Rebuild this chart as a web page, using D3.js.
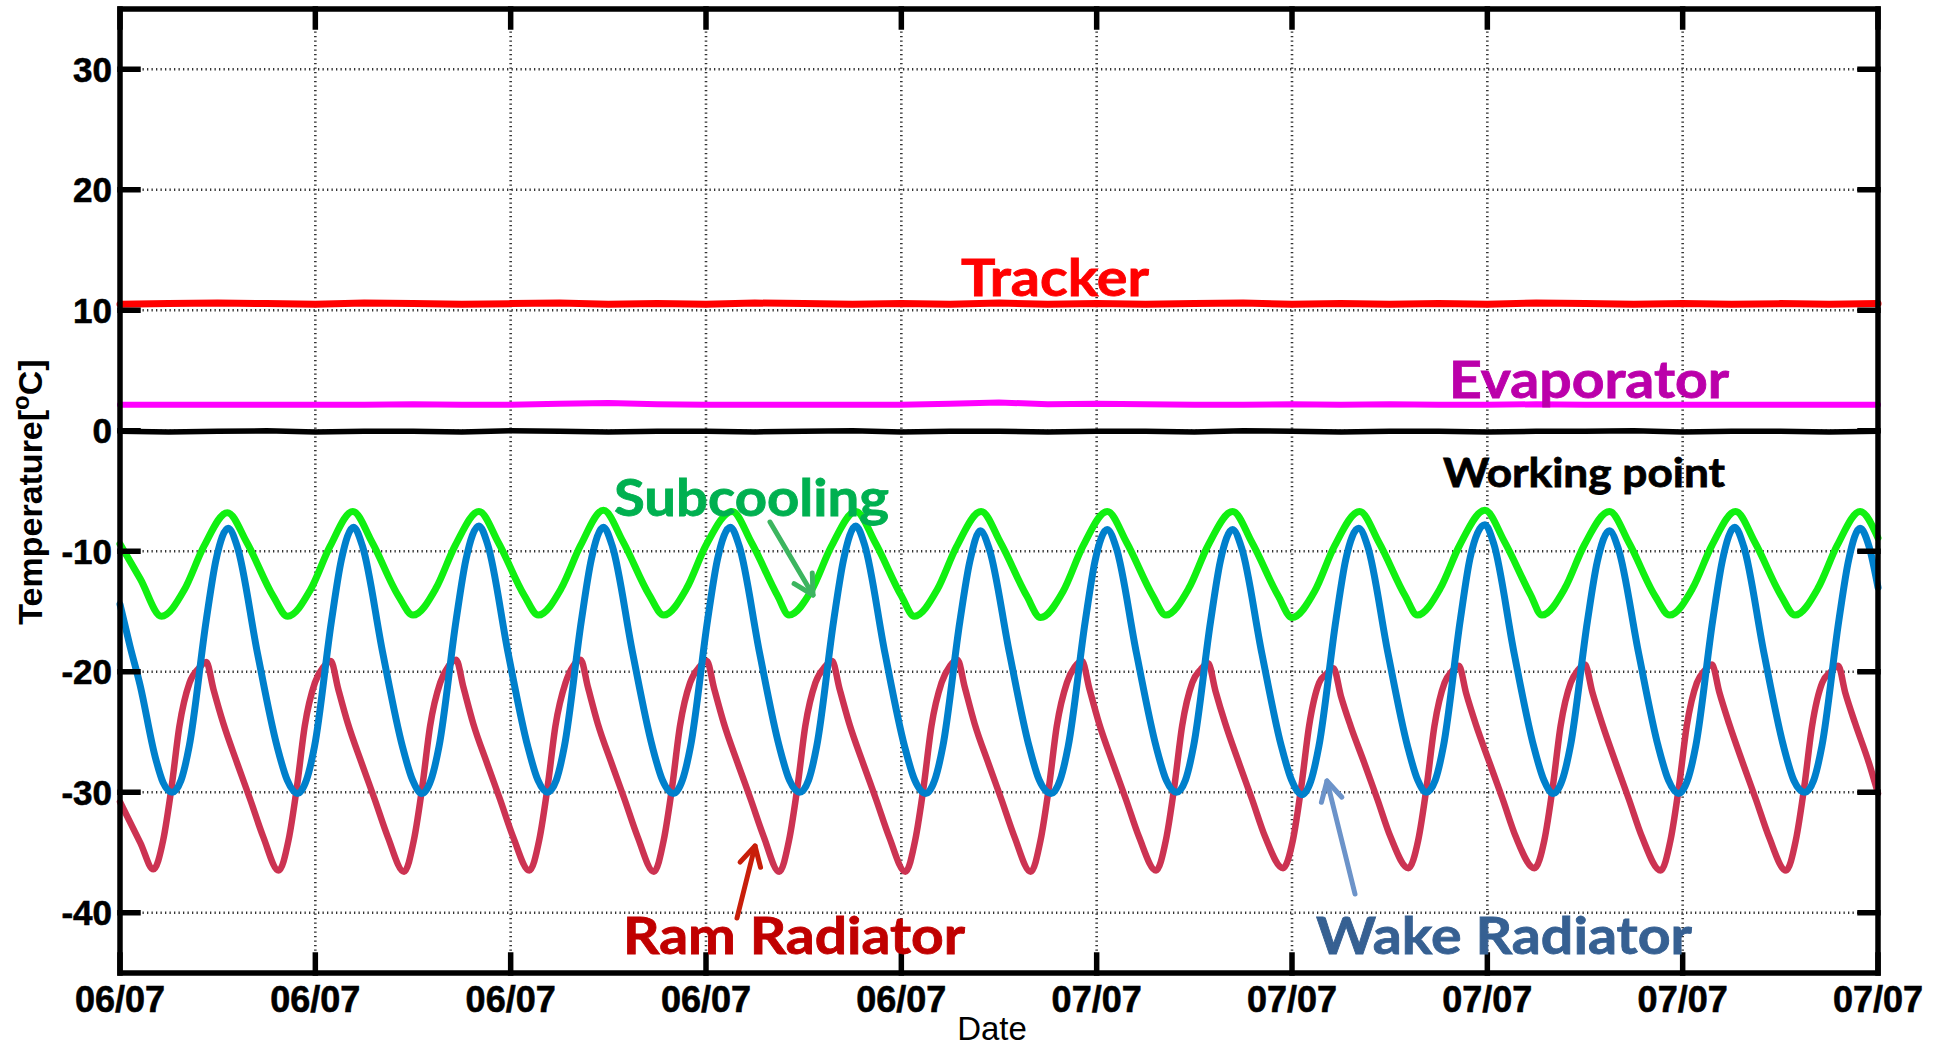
<!DOCTYPE html>
<html>
<head>
<meta charset="utf-8">
<script src="https://cdn.jsdelivr.net/npm/d3@7"></script>
<style>
  body { margin: 0; background: #ffffff; }
  svg { display: block; }
</style>
</head>
<body>
<svg id="chart" width="1939" height="1050"></svg>
<script>
// ---- axis ticks (time in hours from the first tick) ----
const xTickHours = [0, 2.4, 4.8, 7.2, 9.6, 12, 14.4, 16.8, 19.2, 21.6];
const xTickLabels = ["06/07", "06/07", "06/07", "06/07", "06/07",
                     "07/07", "07/07", "07/07", "07/07", "07/07"];
const yTicks = [30, 20, 10, 0, -10, -20, -30, -40];

// ---- nearly constant loops, sampled every 0.6 h ----
const flatHours = [0, 0.6, 1.2, 1.8, 2.4, 3.0, 3.6, 4.2, 4.8, 5.4, 6.0, 6.6, 7.2, 7.8,
  8.4, 9.0, 9.6, 10.2, 10.8, 11.4, 12.0, 12.6, 13.2, 13.8, 14.4, 15.0, 15.6, 16.2,
  16.8, 17.4, 18.0, 18.6, 19.2, 19.8, 20.4, 21.0, 21.6];
const trackerTemp = [10.50, 10.55, 10.60, 10.55, 10.50, 10.60, 10.55, 10.50, 10.55, 10.60,
  10.50, 10.55, 10.50, 10.60, 10.55, 10.50, 10.55, 10.50, 10.60, 10.50, 10.55, 10.50,
  10.55, 10.60, 10.50, 10.55, 10.50, 10.55, 10.50, 10.60, 10.55, 10.50, 10.55, 10.50,
  10.55, 10.50, 10.55];
const evaporatorTemp = [2.15, 2.15, 2.15, 2.15, 2.15, 2.15, 2.20, 2.15, 2.15, 2.25, 2.30,
  2.20, 2.15, 2.15, 2.15, 2.15, 2.15, 2.25, 2.35, 2.20, 2.25, 2.20, 2.15, 2.15, 2.20,
  2.15, 2.20, 2.15, 2.15, 2.20, 2.15, 2.15, 2.15, 2.15, 2.15, 2.15, 2.15];
const workingPointTemp = [-0.05, -0.10, -0.05, 0.00, -0.10, -0.05, -0.05, -0.10, 0.00,
  -0.05, -0.10, -0.05, -0.05, -0.10, -0.05, 0.00, -0.10, -0.05, -0.05, -0.10, -0.05,
  -0.05, -0.10, 0.00, -0.05, -0.10, -0.05, -0.05, -0.10, -0.05, -0.05, 0.00, -0.10,
  -0.05, -0.05, -0.10, -0.05];

// ---- subcooling ----
const subcoolingHours = [0.00, 0.25,
  0.51, 0.79, 1.03, 1.32, 1.56, 1.88,
  2.06, 2.34, 2.58, 2.86, 3.10, 3.42,
  3.60, 3.88, 4.12, 4.41, 4.65, 4.97,
  5.14, 5.42, 5.66, 5.94, 6.18, 6.50,
  6.68, 6.96, 7.20, 7.52, 7.76, 8.08,
  8.22, 8.50, 8.74, 9.04, 9.28, 9.60,
  9.76, 10.04, 10.28, 10.58, 10.82, 11.14,
  11.31, 11.59, 11.83, 12.13, 12.37, 12.69,
  12.85, 13.13, 13.37, 13.67, 13.91, 14.23,
  14.40, 14.68, 14.92, 15.23, 15.47, 15.79,
  15.94, 16.22, 16.46, 16.77, 17.01, 17.33,
  17.47, 17.75, 17.99, 18.30, 18.54, 18.86,
  19.04, 19.32, 19.56, 19.85, 20.09, 20.41,
  20.58, 20.86, 21.10, 21.38, 21.60];
const subcoolingTemp = [-9.4, -12.3,
  -15.4, -13.2, -9.6, -6.8, -9.3, -13.7,
  -15.4, -13.2, -9.6, -6.7, -9.3, -13.7,
  -15.3, -13.1, -9.5, -6.7, -9.3, -13.7,
  -15.3, -13.1, -9.5, -6.6, -9.2, -13.6,
  -15.3, -13.1, -9.5, -6.7, -9.3, -13.7,
  -15.3, -13.2, -9.6, -6.7, -9.3, -13.7,
  -15.4, -13.2, -9.6, -6.7, -9.3, -13.7,
  -15.5, -13.3, -9.6, -6.7, -9.3, -13.7,
  -15.3, -13.1, -9.5, -6.7, -9.3, -13.7,
  -15.5, -13.3, -9.6, -6.7, -9.3, -13.7,
  -15.3, -13.1, -9.5, -6.6, -9.2, -13.6,
  -15.3, -13.1, -9.5, -6.7, -9.3, -13.7,
  -15.3, -13.1, -9.5, -6.7, -9.3, -13.7,
  -15.3, -13.1, -9.5, -6.7, -8.9];

// ---- wake radiator ----
const wakeHours = [0.00, 0.12, 0.25, 0.43, 0.53,
  0.64, 0.75, 0.85, 1.06, 1.18, 1.33, 1.44, 1.69, 1.93, 2.055,
  2.18, 2.29, 2.39, 2.60, 2.72, 2.87, 2.98, 3.23, 3.47, 3.595,
  3.71, 3.82, 3.92, 4.13, 4.25, 4.41, 4.52, 4.77, 5.01, 5.135,
  5.25, 5.36, 5.46, 5.67, 5.79, 5.94, 6.05, 6.30, 6.54, 6.665,
  6.80, 6.91, 7.01, 7.22, 7.34, 7.50, 7.61, 7.86, 8.10, 8.225,
  8.35, 8.46, 8.56, 8.77, 8.89, 9.04, 9.15, 9.40, 9.64, 9.765,
  9.90, 10.01, 10.11, 10.32, 10.44, 10.57, 10.68, 10.93, 11.17, 11.295,
  11.44, 11.55, 11.65, 11.86, 11.98, 12.13, 12.24, 12.49, 12.73, 12.855,
  12.98, 13.09, 13.19, 13.40, 13.52, 13.67, 13.78, 14.03, 14.27, 14.395,
  14.52, 14.63, 14.73, 14.94, 15.06, 15.22, 15.33, 15.58, 15.82, 15.945,
  16.05, 16.16, 16.26, 16.47, 16.59, 16.77, 16.88, 17.13, 17.37, 17.495,
  17.61, 17.72, 17.82, 18.03, 18.15, 18.30, 18.41, 18.66, 18.90, 19.025,
  19.15, 19.26, 19.36, 19.57, 19.69, 19.84, 19.95, 20.20, 20.44, 20.565,
  20.70, 20.81, 20.91, 21.12, 21.24, 21.38, 21.49, 21.60];
const wakeTemp = [-14.4, -17.8, -21.2, -27.0, -29.2,
  -30.0, -29.0, -26.2, -15.7, -10.7, -8.1, -9.6, -18.5, -26.2, -29.0,
  -30.1, -29.0, -26.2, -15.7, -10.7, -8.0, -9.6, -18.5, -26.2, -29.0,
  -30.1, -29.0, -26.2, -15.7, -10.7, -7.9, -9.5, -18.5, -26.2, -29.0,
  -30.0, -29.0, -26.2, -15.7, -10.7, -8.0, -9.6, -18.5, -26.2, -29.0,
  -30.1, -29.0, -26.2, -15.7, -10.7, -8.0, -9.6, -18.5, -26.2, -29.0,
  -30.0, -29.0, -26.2, -15.7, -10.7, -7.9, -9.5, -18.5, -26.2, -29.0,
  -30.1, -29.0, -26.2, -15.8, -10.9, -8.3, -9.8, -18.5, -26.2, -29.0,
  -30.1, -29.0, -26.2, -15.8, -10.8, -8.2, -9.7, -18.5, -26.2, -29.0,
  -30.0, -29.0, -26.2, -15.8, -10.8, -8.2, -9.7, -18.5, -26.2, -29.0,
  -30.2, -29.1, -26.2, -15.7, -10.7, -8.1, -9.6, -18.5, -26.2, -29.0,
  -30.0, -29.0, -26.2, -15.6, -10.5, -7.8, -9.4, -18.5, -26.2, -29.0,
  -30.1, -29.0, -26.2, -15.8, -10.9, -8.3, -9.8, -18.5, -26.2, -29.0,
  -30.1, -29.0, -26.2, -15.7, -10.7, -8.0, -9.6, -18.5, -26.2, -29.0,
  -30.0, -29.0, -26.2, -15.7, -10.7, -8.1, -9.6, -13.0];

// ---- ram radiator ----
const ramHours = [0.00, 0.25,
  0.41, 0.53, 0.635, 0.73, 0.855, 0.97, 1.06, 1.15, 1.27, 1.44, 1.60, 1.76,
  1.95, 2.07, 2.175, 2.27, 2.395, 2.50, 2.59, 2.68, 2.80, 2.97, 3.13, 3.29,
  3.49, 3.61, 3.715, 3.81, 3.935, 4.04, 4.13, 4.22, 4.34, 4.51, 4.67, 4.83,
  5.03, 5.15, 5.255, 5.35, 5.475, 5.57, 5.66, 5.75, 5.87, 6.04, 6.20, 6.36,
  6.56, 6.68, 6.785, 6.88, 7.005, 7.12, 7.21, 7.30, 7.42, 7.59, 7.75, 7.91,
  8.10, 8.22, 8.325, 8.42, 8.545, 8.66, 8.75, 8.84, 8.96, 9.13, 9.29, 9.45,
  9.65, 9.77, 9.875, 9.97, 10.095, 10.20, 10.29, 10.38, 10.50, 10.67, 10.83, 10.99,
  11.19, 11.31, 11.415, 11.51, 11.635, 11.73, 11.82, 11.91, 12.03, 12.20, 12.36, 12.52,
  12.73, 12.85, 12.955, 13.05, 13.175, 13.28, 13.37, 13.46, 13.58, 13.75, 13.91, 14.07,
  14.29, 14.41, 14.515, 14.61, 14.735, 14.82, 14.91, 15.00, 15.12, 15.29, 15.45, 15.61,
  15.83, 15.95, 16.055, 16.15, 16.275, 16.36, 16.45, 16.54, 16.66, 16.83, 16.99, 17.15,
  17.38, 17.50, 17.605, 17.70, 17.825, 17.91, 18.00, 18.09, 18.21, 18.38, 18.54, 18.70,
  18.93, 19.05, 19.155, 19.25, 19.375, 19.47, 19.56, 19.65, 19.77, 19.94, 20.10, 20.26,
  20.47, 20.59, 20.695, 20.79, 20.915, 21.02, 21.11, 21.20, 21.32, 21.49, 21.60];
const ramTemp = [-30.8, -34.2,
  -36.4, -34.0, -29.5, -24.5, -20.9, -19.7, -19.2, -21.5, -24.3, -27.6, -30.6, -33.7,
  -36.5, -34.0, -29.5, -24.5, -20.9, -19.6, -19.1, -21.4, -24.3, -27.6, -30.6, -33.7,
  -36.6, -34.0, -29.5, -24.5, -20.9, -19.5, -19.0, -21.3, -24.3, -27.6, -30.6, -33.7,
  -36.5, -34.0, -29.5, -24.5, -20.9, -19.5, -19.0, -21.3, -24.3, -27.6, -30.6, -33.7,
  -36.6, -34.0, -29.5, -24.5, -20.9, -19.6, -19.1, -21.4, -24.3, -27.6, -30.6, -33.7,
  -36.6, -34.0, -29.5, -24.5, -20.9, -19.6, -19.1, -21.4, -24.3, -27.6, -30.6, -33.7,
  -36.6, -34.0, -29.5, -24.5, -20.9, -19.5, -19.0, -21.3, -24.3, -27.6, -30.6, -33.7,
  -36.6, -34.0, -29.5, -24.5, -20.9, -19.6, -19.1, -21.4, -24.3, -27.6, -30.6, -33.7,
  -36.5, -34.0, -29.5, -24.5, -20.9, -19.8, -19.3, -21.6, -24.3, -27.6, -30.6, -33.7,
  -36.3, -34.0, -29.5, -24.5, -20.9, -20.2, -19.7, -22.0, -24.5, -27.6, -30.6, -33.7,
  -36.3, -34.0, -29.5, -24.5, -20.9, -20.0, -19.5, -21.8, -24.4, -27.6, -30.6, -33.7,
  -36.3, -34.0, -29.5, -24.5, -20.9, -19.9, -19.4, -21.7, -24.3, -27.6, -30.6, -33.7,
  -36.5, -34.0, -29.5, -24.5, -20.9, -19.9, -19.4, -21.7, -24.3, -27.6, -30.6, -33.7,
  -36.5, -34.0, -29.5, -24.5, -20.9, -20.0, -19.5, -21.8, -24.3, -27.6, -30.1];

// ---- layout ----
const plot = { left: 120, right: 1878, top: 9, bottom: 973 };
const svg = d3.select("#chart");

const x = d3.scaleLinear().domain([0, 21.6]).range([plot.left, plot.right]);
const y = d3.scaleLinear().domain([-45, 35]).range([plot.bottom, plot.top]);

const tickFont = "'Liberation Sans', Arial, sans-serif";
const noteFont = "Lato, 'Open Sans', sans-serif";

// dotted grid
const grid = svg.append("g").attr("stroke", "#333").attr("stroke-width", 2.6)
  .attr("stroke-dasharray", "1.3 3.2");
grid.selectAll("line.gx").data(xTickHours.slice(1, -1)).join("line")
  .attr("x1", d => x(d)).attr("x2", d => x(d))
  .attr("y1", plot.top).attr("y2", plot.bottom);
grid.selectAll("line.gy").data(yTicks).join("line")
  .attr("x1", plot.left).attr("x2", plot.right)
  .attr("y1", d => y(d)).attr("y2", d => y(d));

// series
function drawSeries(hours, temps, color, width, curve) {
  const pts = hours.map((h, i) => [h, temps[i]]);
  svg.append("path")
    .datum(pts)
    .attr("fill", "none")
    .attr("stroke", color)
    .attr("stroke-width", width)
    .attr("stroke-linejoin", "round")
    .attr("stroke-linecap", "round")
    .attr("d", d3.line().x(d => x(d[0])).y(d => y(d[1])).curve(curve));
}
drawSeries(flatHours, trackerTemp, "#ff0000", 7, d3.curveLinear);
drawSeries(flatHours, evaporatorTemp, "#ff00ff", 6, d3.curveLinear);
drawSeries(flatHours, workingPointTemp, "#000000", 5.5, d3.curveLinear);
drawSeries(ramHours, ramTemp, "#cc3352", 6.5, d3.curveMonotoneX);
drawSeries(wakeHours, wakeTemp, "#0080cc", 7, d3.curveMonotoneX);
drawSeries(subcoolingHours, subcoolingTemp, "#11f011", 7, d3.curveMonotoneX);

// axes box and inward ticks
const axes = svg.append("g").attr("stroke", "#000").attr("stroke-width", 5.5)
  .attr("stroke-linecap", "square");
axes.append("rect")
  .attr("x", plot.left).attr("y", plot.top)
  .attr("width", plot.right - plot.left).attr("height", plot.bottom - plot.top)
  .attr("fill", "none");
const tickLen = 18;
axes.selectAll("line.tb").data(xTickHours).join("line")
  .attr("x1", d => x(d)).attr("x2", d => x(d))
  .attr("y1", plot.bottom).attr("y2", plot.bottom - tickLen);
axes.selectAll("line.tt").data(xTickHours).join("line")
  .attr("x1", d => x(d)).attr("x2", d => x(d))
  .attr("y1", plot.top).attr("y2", plot.top + tickLen);
axes.selectAll("line.tl").data(yTicks).join("line")
  .attr("x1", plot.left).attr("x2", plot.left + tickLen)
  .attr("y1", d => y(d)).attr("y2", d => y(d));
axes.selectAll("line.tr").data(yTicks).join("line")
  .attr("x1", plot.right).attr("x2", plot.right - tickLen)
  .attr("y1", d => y(d)).attr("y2", d => y(d));

// tick labels
svg.append("g").selectAll("text").data(xTickHours).join("text")
  .attr("x", d => x(d)).attr("y", 1012)
  .attr("text-anchor", "middle")
  .attr("font-family", tickFont).attr("font-weight", "bold").attr("font-size", 36)
  .attr("stroke", "#000").attr("stroke-width", 0.6)
  .text((d, i) => xTickLabels[i]);
svg.append("g").selectAll("text").data(yTicks).join("text")
  .attr("x", plot.left - 8).attr("y", d => y(d) + 12.5)
  .attr("text-anchor", "end")
  .attr("font-family", tickFont).attr("font-weight", "bold").attr("font-size", 35)
  .attr("stroke", "#000").attr("stroke-width", 0.6)
  .text(d => d);

// axis titles
svg.append("text")
  .attr("x", 992).attr("y", 1040)
  .attr("text-anchor", "middle")
  .attr("font-family", tickFont).attr("font-size", 33)
  .text("Date");
const yTitle = svg.append("text")
  .attr("transform", "translate(42,492) rotate(-90)")
  .attr("text-anchor", "middle")
  .attr("font-family", tickFont).attr("font-weight", "bold").attr("font-size", 34);
yTitle.append("tspan").text("Temperature[");
yTitle.append("tspan").attr("font-size", 24).attr("dy", -13).text("o");
yTitle.append("tspan").attr("dy", 13).text("C]");

// series annotations
const notes = [
  { text: "Tracker", x: 961, y: 296, len: 188, size: 51, color: "#ff0000" },
  { text: "Evaporator", x: 1449, y: 398, len: 280, size: 51, color: "#bb00aa" },
  { text: "Working point", x: 1443, y: 487, len: 282, size: 41, color: "#000000" },
  { text: "Subcooling", x: 614, y: 516, len: 275, size: 51, color: "#00b050" },
  { text: "Ram Radiator", x: 623, y: 954, len: 342, size: 51, color: "#c00000" },
  { text: "Wake Radiator", x: 1316, y: 954, len: 376, size: 51, color: "#366092" }
];
svg.append("g").selectAll("text").data(notes).join("text")
  .attr("x", d => d.x).attr("y", d => d.y)
  .attr("font-family", noteFont).attr("font-weight", "bold")
  .attr("font-size", d => d.size)
  .attr("textLength", d => d.len).attr("lengthAdjust", "spacingAndGlyphs")
  .attr("fill", d => d.color)
  .attr("stroke", d => d.color).attr("stroke-width", 0.8)
  .text(d => d.text);

// pointer arrows
const arrows = [
  { x1: 770, y1: 522, x2: 813, y2: 595, color: "#3cb55f" },
  { x1: 737, y1: 918, x2: 755, y2: 846, color: "#c81e0a" },
  { x1: 1355, y1: 894, x2: 1327, y2: 781, color: "#6c93c9" }
];
const arrowG = svg.append("g").attr("fill", "none").attr("stroke-width", 5)
  .attr("stroke-linecap", "round").attr("stroke-linejoin", "round");
arrows.forEach(a => {
  const ang = Math.atan2(a.y2 - a.y1, a.x2 - a.x1);
  const head = 22, spread = 0.5;
  const p1 = [a.x2 - head * Math.cos(ang - spread), a.y2 - head * Math.sin(ang - spread)];
  const p2 = [a.x2 - head * Math.cos(ang + spread), a.y2 - head * Math.sin(ang + spread)];
  arrowG.append("line").attr("x1", a.x1).attr("y1", a.y1).attr("x2", a.x2).attr("y2", a.y2)
    .attr("stroke", a.color);
  arrowG.append("path")
    .attr("d", `M${p1[0]},${p1[1]}L${a.x2},${a.y2}L${p2[0]},${p2[1]}`)
    .attr("stroke", a.color);
});
</script>
</body>
</html>
